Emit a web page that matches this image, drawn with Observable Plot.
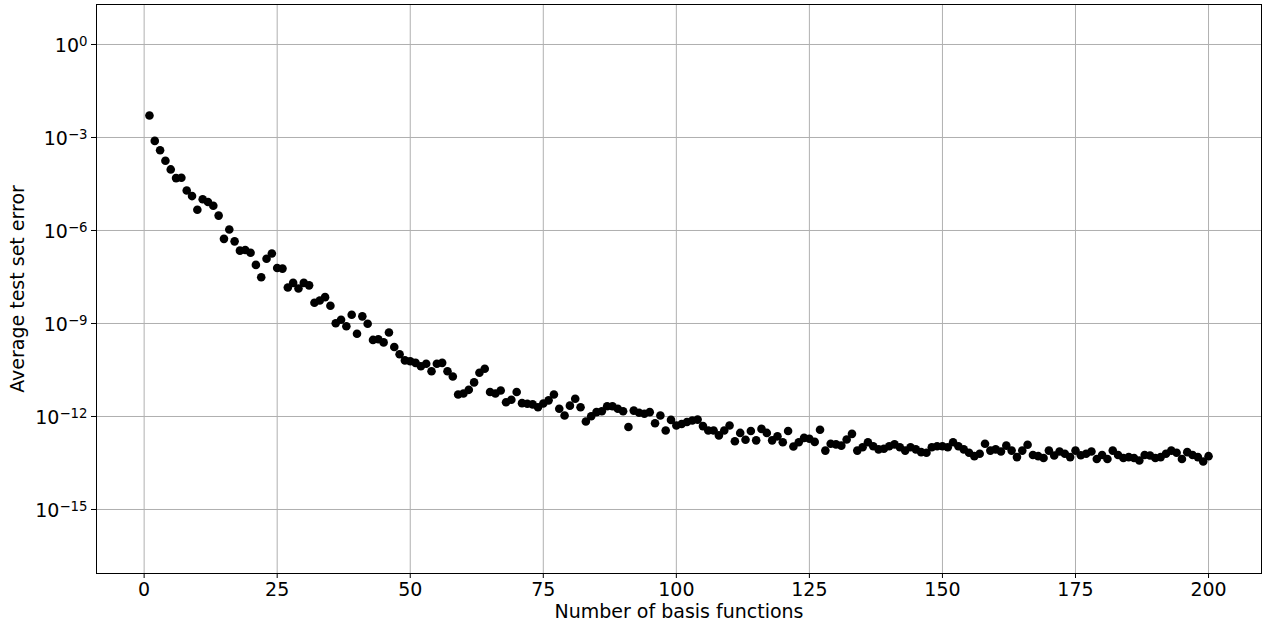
<!DOCTYPE html>
<html><head><meta charset="utf-8">
<script src="https://cdn.jsdelivr.net/npm/d3@7"></script>
<script src="https://cdn.jsdelivr.net/npm/@observablehq/plot@0.6"></script>
<style>body{margin:0;background:#fff;font-family:"DejaVu Sans";}</style>
</head><body><div id="chart"></div>
<script>
// log10 of the average test set error, for 1..200 basis functions
const errorExponent = [
  -2.29,-3.11,-3.41,-3.75,-4.03,-4.31,-4.30,-4.71,-4.89,-5.33,
  -4.99,-5.08,-5.20,-5.52,-6.27,-5.97,-6.35,-6.65,-6.63,-6.72,
  -7.11,-7.51,-6.91,-6.74,-7.21,-7.23,-7.84,-7.69,-7.87,-7.69,
  -7.77,-8.33,-8.26,-8.15,-8.43,-8.99,-8.88,-9.09,-8.72,-9.33,
  -8.77,-9.01,-9.53,-9.51,-9.61,-9.29,-9.76,-9.99,-10.19,-10.22,
  -10.27,-10.38,-10.30,-10.54,-10.30,-10.27,-10.54,-10.71,-11.29,-11.26,
  -11.14,-10.90,-10.59,-10.46,-11.21,-11.26,-11.16,-11.54,-11.46,-11.21,
  -11.57,-11.59,-11.61,-11.70,-11.58,-11.48,-11.29,-11.75,-11.97,-11.65,
  -11.43,-11.70,-12.16,-11.99,-11.86,-11.83,-11.67,-11.67,-11.75,-11.83,
  -12.34,-11.81,-11.88,-11.91,-11.86,-12.22,-11.97,-12.45,-12.11,-12.29,
  -12.24,-12.18,-12.13,-12.10,-12.31,-12.45,-12.45,-12.61,-12.45,-12.29,
  -12.80,-12.53,-12.75,-12.47,-12.77,-12.40,-12.53,-12.77,-12.64,-12.83,
  -12.47,-12.97,-12.83,-12.69,-12.72,-12.82,-12.43,-13.10,-12.88,-12.90,
  -12.94,-12.74,-12.56,-13.10,-12.99,-12.83,-12.96,-13.06,-13.04,-12.96,
  -12.90,-12.99,-13.10,-12.99,-13.06,-13.15,-13.17,-12.99,-12.96,-12.96,
  -12.99,-12.83,-12.96,-13.06,-13.17,-13.28,-13.20,-12.88,-13.10,-13.06,
  -13.13,-12.94,-13.10,-13.31,-13.10,-12.91,-13.24,-13.28,-13.34,-13.10,
  -13.26,-13.13,-13.20,-13.31,-13.10,-13.25,-13.20,-13.13,-13.37,-13.24,
  -13.37,-13.10,-13.24,-13.34,-13.31,-13.34,-13.42,-13.24,-13.26,-13.34,
  -13.31,-13.20,-13.10,-13.17,-13.37,-13.15,-13.24,-13.31,-13.45,-13.28
];
const basisFunctions = errorExponent.map((_, i) => i + 1);
const xTicks = [0, 25, 50, 75, 100, 125, 150, 175, 200];
const yTicks = [1, 1e-3, 1e-6, 1e-9, 1e-12, 1e-15];
const xLabel = "Number of basis functions";
const yLabel = "Average test set error";

const data = basisFunctions.map((n, i) => ({n, err: Math.pow(10, errorExponent[i])}));

const chart = Plot.plot({
  width: 1263, height: 627,
  marginLeft: 96, marginRight: 2, marginTop: 4, marginBottom: 54,
  style: {fontFamily: "DejaVu Sans", fontSize: "19px", color: "#000", background: "#fff", overflow: "visible"},
  x: {domain: [-8.95, 209.95]},
  y: {type: "log", domain: [Math.pow(10, -17.065), Math.pow(10, 1.29)]},
  marks: [
    Plot.gridX(xTicks, {stroke: "#b0b0b0", strokeOpacity: 1, strokeWidth: 1}),
    Plot.gridY(yTicks, {stroke: "#b0b0b0", strokeOpacity: 1, strokeWidth: 1}),
    Plot.axisX(xTicks, {tickSize: 5, tickPadding: 4, stroke: "#000", label: xLabel, labelArrow: "none", labelAnchor: "center", labelOffset: 44, fontSize: 19}),
    Plot.axisY(yTicks, {tickSize: 5, tickPadding: 4, stroke: "#000", tickFormat: d => "10^" + Math.round(Math.log10(d)), label: yLabel, labelArrow: "none", labelAnchor: "center", labelOffset: 86, fontSize: 19}),
    Plot.dot(data, {x: "n", y: "err", r: 4.3, fill: "#000", stroke: null}),
    Plot.frame({stroke: "#000", strokeWidth: 1})
  ]
});
document.getElementById("chart").appendChild(chart);

// render exponents as superscripts
const ns = "http://www.w3.org/2000/svg";
chart.querySelectorAll('g[aria-label="y-axis tick label"] text').forEach(t => {
  const s = t.textContent;
  const parts = s.split("^");
  if (parts.length !== 2) return;
  while (t.firstChild) t.removeChild(t.firstChild);
  const a = document.createElementNS(ns, "tspan");
  a.textContent = parts[0];
  const b = document.createElementNS(ns, "tspan");
  b.textContent = parts[1].replace("-", "\u2212");
  b.setAttribute("dy", "-0.45em");
  b.setAttribute("font-size", "0.7em");
  t.appendChild(a); t.appendChild(b);
  t.setAttribute("transform", (t.getAttribute("transform") || "") + " translate(0,1.5)");
});
</script>
</body></html>
